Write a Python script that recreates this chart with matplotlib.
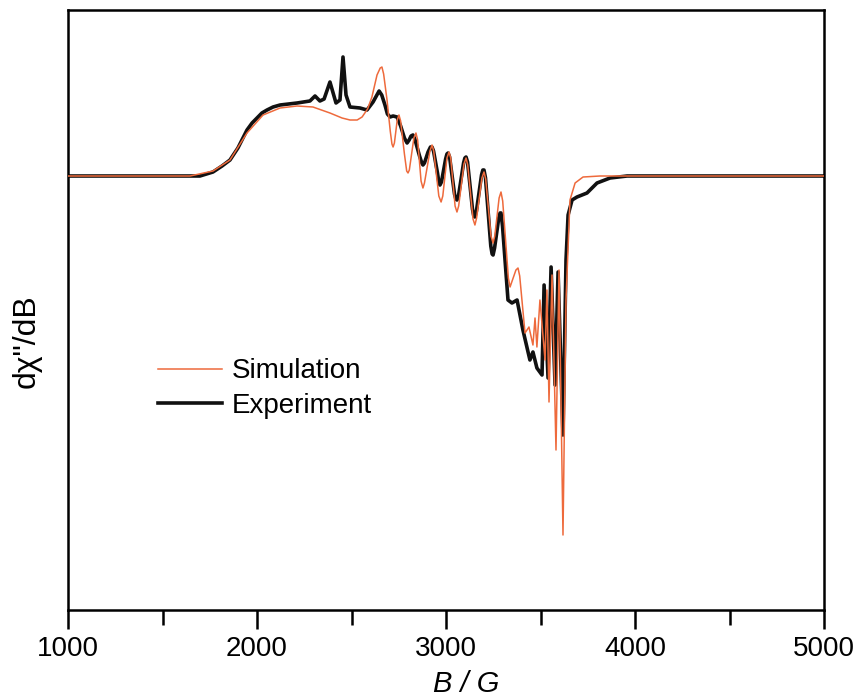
import matplotlib
matplotlib.use('Agg')
import matplotlib.pyplot as plt
from matplotlib.ticker import MultipleLocator

plt.rcParams['font.family'] = ['Liberation Sans', 'DejaVu Sans']

# experiment (black), field in G, intensity in arbitrary units
exp_B = [1000, 1434, 1698, 1767, 1815, 1857, 1899, 1947, 1974, 2000, 2026, 2053,
         2085, 2122, 2212, 2280, 2307, 2333, 2355, 2386, 2418, 2439, 2455, 2471,
         2492, 2545, 2582, 2614, 2646, 2660, 2677, 2690, 2704, 2720, 2741, 2760,
         2780, 2794, 2805, 2815, 2825, 2835, 2860, 2872, 2878, 2886, 2905, 2918,
         2926, 2934, 2955, 2962, 2968, 2976, 2998, 3005, 3011, 3019, 3045, 3052,
         3058, 3066, 3093, 3100, 3106, 3114, 3140, 3147, 3153, 3161, 3188, 3195,
         3201, 3209, 3237, 3244, 3249, 3257, 3279, 3286, 3291, 3299, 3328, 3349,
         3376, 3407, 3444, 3460, 3481, 3508, 3519, 3540, 3556, 3577, 3593, 3619,
         3635, 3646, 3667, 3693, 3746, 3799, 3868, 3958, 4344, 5000]
exp_I = [0, 0, 0, 4, 10, 16, 28, 46, 53, 58, 63, 66,
         69, 71, 73, 75, 80, 75, 77, 94, 73, 76, 119, 81,
         69, 68, 66, 74, 85, 81, 71, 62, 59, 60, 59, 50,
         38, 33, 36, 40, 41, 37, 20, 13, 11, 13, 24, 29,
         29, 25, 3, -6, -9, -6, 17, 22, 23, 19, -18, -23,
         -24, -20, 13, 18, 19, 14, -33, -40, -41, -35, 1, 6,
         6, -2, -70, -78, -79, -72, -42, -37, -37, -50, -124, -127,
         -124, -154, -184, -176, -192, -199, -109, -202, -91, -209, -96, -259,
         -84, -39, -24, -21, -17, -7, -2, 0, 0, 0]

# simulation (orange)
sim_B = [1000, 1646, 1767, 1857, 1947, 2032, 2122, 2212, 2296, 2386, 2450, 2492,
         2530, 2556, 2585, 2608, 2635, 2652, 2661, 2670, 2688, 2705, 2714, 2720,
         2727, 2742, 2751, 2760, 2780, 2792, 2799, 2806, 2830, 2841, 2850, 2868,
         2878, 2886, 2915, 2926, 2935, 2962, 2974, 2983, 3005, 3016, 3025, 3048,
         3058, 3067, 3095, 3106, 3115, 3143, 3153, 3162, 3190, 3201, 3210, 3238,
         3249, 3258, 3281, 3291, 3300, 3330, 3339, 3348, 3370, 3381, 3390, 3418,
         3439, 3460, 3471, 3481, 3497, 3524, 3534, 3545, 3561, 3582, 3598, 3619,
         3635, 3656, 3683, 3725, 3815, 5000]
sim_I = [0, 0, 5, 16, 43, 61, 68, 70, 69, 63, 58, 56,
         56, 59, 67, 79, 101, 108, 109, 102, 76, 45, 32, 29,
         33, 56, 61, 55, 22, 5, 3, 6, 38, 43, 36, -5,
         -12, -7, 25, 31, 25, -20, -26, -20, 18, 24, 18, -30,
         -36, -30, 12, 18, 11, -43, -49, -42, -2, 4, -3, -60,
         -67, -60, -22, -16, -25, -102, -111, -106, -94, -92, -100, -157,
         -151, -169, -142, -171, -124, -184, -114, -226, -99, -274, -94, -359,
         -124, -24, -7, -1, 0, 0]

fig = plt.figure(figsize=(8.58, 6.98), dpi=100)
ax = fig.add_axes([68 / 858, 1 - 610 / 698, 756 / 858, 600 / 698])

ax.plot(sim_B, sim_I, color='#ee6a3c', lw=1.1, label='Simulation', zorder=3)
ax.plot(exp_B, exp_I, color='#111111', lw=2.6, label='Experiment', zorder=2,
        solid_joinstyle='round')

ax.set_xlim(1000, 5000)
ax.set_ylim(-434, 166)
ax.xaxis.set_major_locator(MultipleLocator(1000))
ax.xaxis.set_minor_locator(MultipleLocator(500))
ax.set_yticks([])
ax.tick_params(axis='x', which='major', direction='out', length=13.7, width=1.8,
               labelsize=20, pad=5)
ax.tick_params(axis='x', which='minor', direction='out', length=10.8, width=1.8)
for s in ax.spines.values():
    s.set_linewidth(1.8)

# axis labels placed as text to match the offsets in the original
ax.text((466 - 68) / 756, (610 - 684) / 600, 'B / G', transform=ax.transAxes,
        fontsize=21, fontstyle='italic', ha='center', va='center')
ax.text((27 - 68) / 756, (610 - 341) / 600, 'dχ"/dB', transform=ax.transAxes,
        fontsize=23, rotation=90, ha='center', va='center')

ax.legend(loc='center left', bbox_to_anchor=(0.119, 0.369), frameon=False,
          fontsize=20, handlelength=2.3, handletextpad=0.36, labelspacing=0.3,
          borderpad=0, borderaxespad=0)

fig.savefig('out.png', dpi=100)
